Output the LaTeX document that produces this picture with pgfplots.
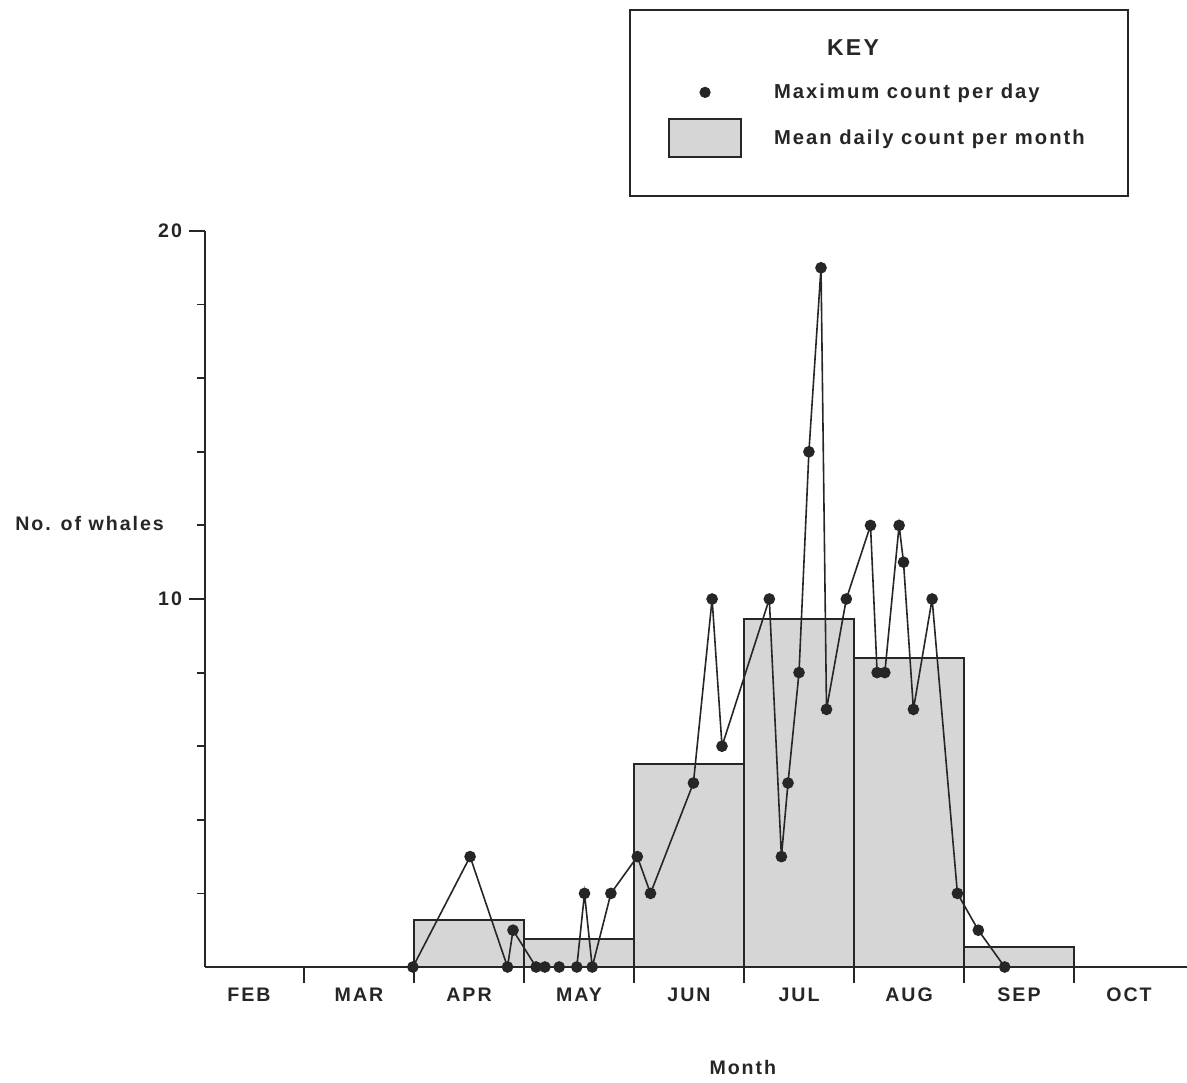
\documentclass[border=0pt]{standalone}
\usepackage{pgfplots}
\pgfplotsset{compat=1.18}
\usepackage{fontspec}
\setmainfont{Liberation Sans}[LetterSpace=10]
\definecolor{barfill}{gray}{0.84}
\definecolor{ink}{gray}{0.15}
\begin{document}
\begin{tikzpicture}[x=1pt,y=1pt]
\useasboundingbox (0,0) rectangle (593.5,541);
\begin{axis}[
  at={(102.5pt,57.5pt)}, anchor=south west,
  x=55pt, y=18.4pt,
  xmin=0.1, xmax=9.03, ymin=0, ymax=20,
  axis x line=bottom, axis y line=left,
  axis line style={-, line width=1pt, draw=ink},
  clip=false,
  xtick={1,...,8}, xticklabels={},
  extra x ticks={0.5,1.5,...,8.5},
  extra x tick labels={FEB,MAR,APR,MAY,JUN,JUL,AUG,SEP,OCT},
  extra x tick style={major tick length=0pt},
  ytick={10,20}, minor ytick={2,4,6,8,12,14,16,18},
  tick align=outside,
  major tick length=8pt, minor tick length=4pt,
  tick style={line width=0.9pt, draw=ink},
  /pgf/number format/assume math mode=true,
  tick label style={font=\bfseries\fontsize{9.8}{11}\selectfont, text=ink},
  xticklabel style={yshift=-7pt},
  ylabel={No. of whales},
  ylabel style={rotate=-90, at={(axis description cs:-0.1175,0.603)}, anchor=center,
    font=\bfseries\fontsize{9.8}{11}\selectfont, text=ink},
  xlabel={Month},
  xlabel style={at={(axis description cs:0.5475,-0.137)}, anchor=center,
    font=\bfseries\fontsize{9.8}{11}\selectfont, text=ink},
  legend style={draw=none, fill=none, at={(0.471,1.2147)}, anchor=north west,
    inner sep=0pt, row sep=3.5pt, column sep=16pt,
    nodes={inner sep=0pt, font=\bfseries\fontsize{10.1}{12}\selectfont, text=ink}},
  legend cell align=left,
]
\addplot[ybar interval, fill=barfill, draw=ink, line width=1pt, forget plot]
  coordinates {(2,1.28)(3,0.76)(4,5.52)(5,9.47)(6,8.40)(7,0.54)(8,0.54)};
\addplot[ink, line width=0.8pt, mark=*, mark size=2.5pt, mark options={fill=ink}, forget plot]
  coordinates {
  (1.99,0)(2.51,3)(2.85,0)(2.90,1)(3.11,0)(3.19,0)(3.32,0)(3.48,0)(3.55,2)(3.62,0)
  (3.79,2)(4.03,3)(4.15,2)(4.54,5)(4.71,10)(4.80,6)(5.23,10)(5.34,3)(5.40,5)(5.50,8)
  (5.59,14)(5.70,19)(5.75,7)(5.93,10)(6.15,12)(6.21,8)(6.28,8)(6.41,12)(6.45,11)
  (6.54,7)(6.71,10)(6.94,2)(7.13,1)(7.37,0)};
\addlegendimage{legend image code/.code={\path[draw=none,fill=none] (0pt,-9.5pt) rectangle (36pt,9.5pt); \fill[ink] (18pt,0pt) circle (2.6pt);}}
\addlegendentry{Maximum count per day}
\addlegendimage{legend image code/.code={\draw[line width=1pt, fill=barfill, draw=ink] (0pt,-9.5pt) rectangle (36pt,9.5pt);}}
\addlegendentry{Mean daily count per month}
\end{axis}
\draw[line width=1pt, ink] (315,443) rectangle (564,536);
\node[font=\bfseries\fontsize{11.5}{13}\selectfont, text=ink] at (426.5,517) {KEY};
\end{tikzpicture}
\end{document}
